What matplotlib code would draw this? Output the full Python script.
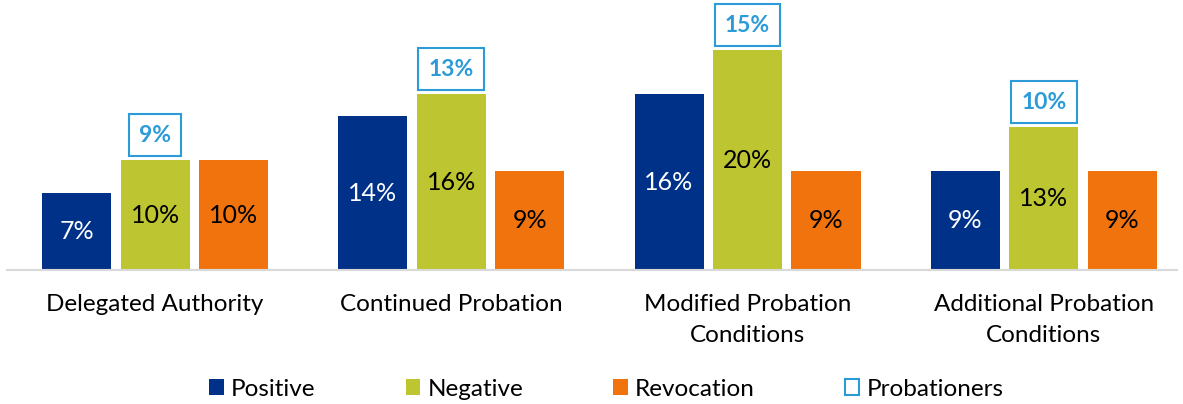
import numpy as np
import matplotlib
matplotlib.use("Agg")
import matplotlib.pyplot as plt
from matplotlib.patches import Patch

# data
categories = ["Delegated Authority", "Continued Probation",
              "Modified Probation\nConditions", "Additional Probation\nConditions"]
positive = [7, 14, 16, 9]
negative = [10, 16, 20, 13]
revocation = [10, 9, 9, 9]
probationers = [9, 13, 15, 10]

c_pos = "#003189"
c_neg = "#BDC530"
c_rev = "#F0730E"
c_prob = "#2C9BD7"

plt.rcParams["font.family"] = ["Lato", "DejaVu Sans"]

fig = plt.figure(figsize=(11.83, 4.04), dpi=100)
ax = fig.add_axes([7 / 1183, 1 - 270 / 404, 1170 / 1183, 270 / 404])

x = np.arange(len(categories))
w = 0.233
step = 0.265

series = [(positive, c_pos, "white", -step),
          (negative, c_neg, "black", 0),
          (revocation, c_rev, "black", step)]
for vals, col, tcol, off in series:
    bars = ax.bar(x + off, vals, width=w, color=col)
    for b, v in zip(bars, vals):
        ax.text(b.get_x() + b.get_width() / 2, v / 2, f"{v}%", ha="center", va="center",
                color=tcol, fontsize=18)

# probationers boxed labels above the negative bars
for xi, v, p in zip(x, negative, probationers):
    ax.annotate(f"{p}%", xy=(xi, v), xytext=(0, 18), textcoords="offset points",
                ha="center", va="center", fontsize=16.5, fontweight="bold", color=c_prob,
                bbox=dict(boxstyle="square,pad=0.45", fc="white", ec=c_prob, lw=1.5),
                annotation_clip=False)

ax.set_xlim(-0.5, 3.45)
ax.set_ylim(0, 24.55)
ax.set_xticks(x)
ax.set_xticklabels(categories, fontsize=17.5, linespacing=1.6)
ax.tick_params(axis="x", length=0, pad=17)
ax.set_yticks([])
for s in ["top", "left", "right"]:
    ax.spines[s].set_visible(False)
ax.spines["bottom"].set_color("#D9D9D9")
ax.spines["bottom"].set_linewidth(1.5)

handles = [Patch(facecolor=c_pos, label="Positive"),
           Patch(facecolor=c_neg, label="Negative"),
           Patch(facecolor=c_rev, label="Revocation"),
           Patch(facecolor="white", edgecolor=c_prob, linewidth=1.5, label="Probationers")]
fig.legend(handles=handles, loc="center", bbox_to_anchor=(0.5127, 0.037), ncol=4,
           frameon=False, fontsize=17.5, handlelength=0.6, handleheight=0.6,
           handletextpad=0.3, columnspacing=3.7)

fig.savefig("out.png", dpi=100)
